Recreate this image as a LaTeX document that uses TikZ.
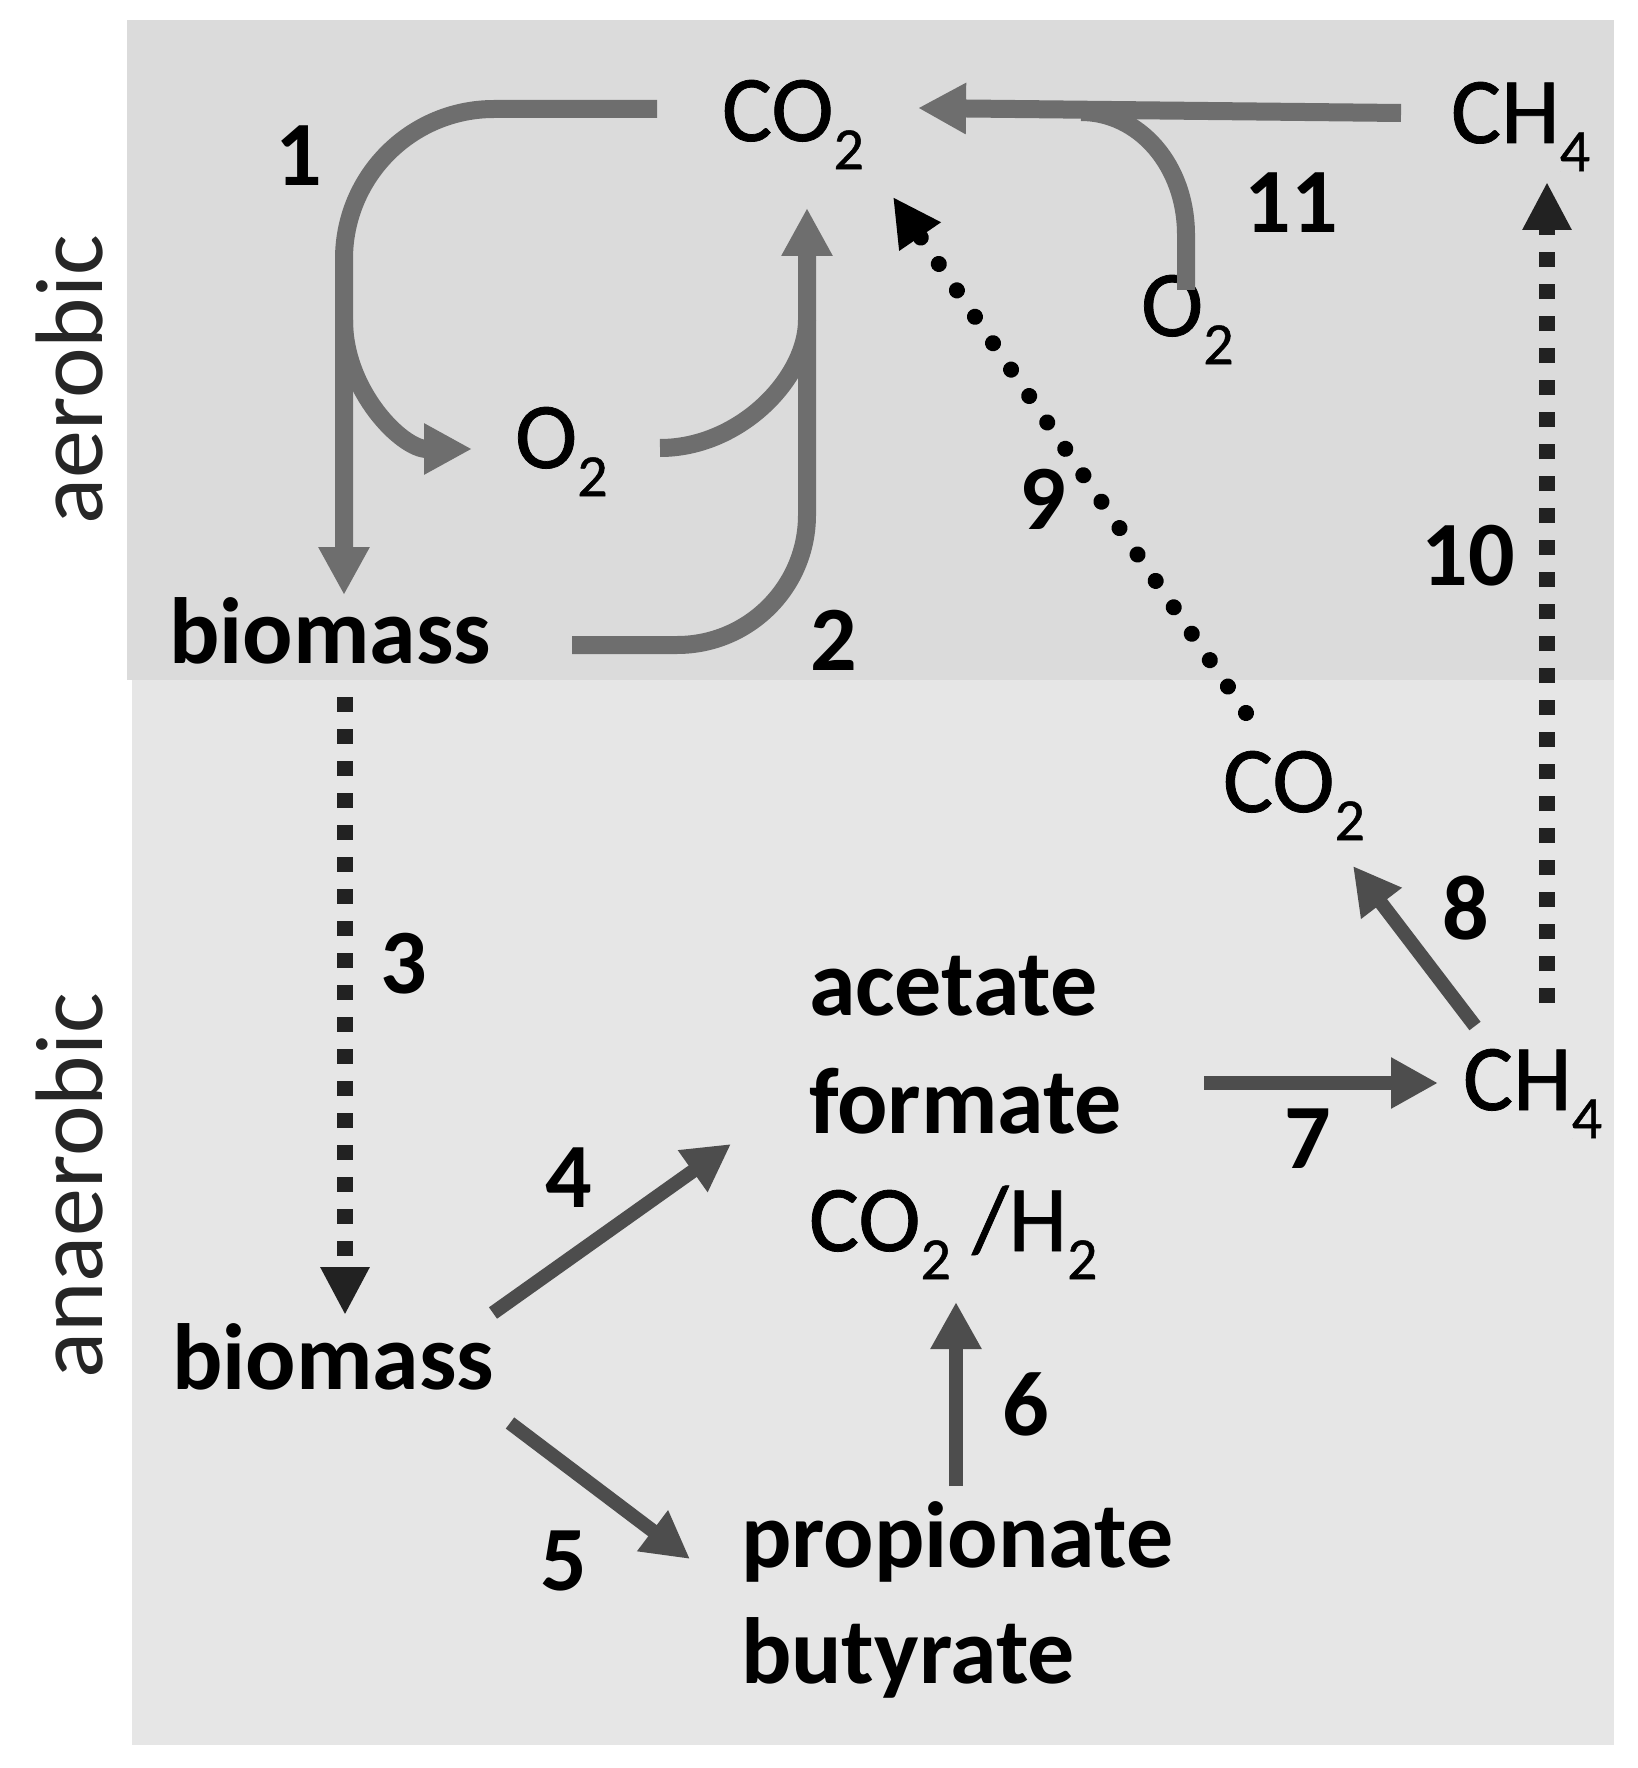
\documentclass[tikz,border=0pt]{standalone}
\usepackage{fontspec}
\setmainfont{Carlito}
\newfontfamily\medfont[FakeBold=0.8]{Carlito}
\usetikzlibrary{arrows.meta}
\definecolor{aerobg}{HTML}{DBDBDB}
\definecolor{anaerobg}{HTML}{E6E6E6}
\definecolor{lightarrow}{HTML}{6E6E6E}
\definecolor{darkarrow}{HTML}{4D4D4D}
\definecolor{dotcol}{HTML}{222222}
\newcommand\chemsub[1]{\raisebox{-0.3em}{\fontsize{60}{60}\selectfont #1}}
\begin{document}
\begin{tikzpicture}[x=1pt,y=-1pt,
  every node/.style={inner sep=0pt, outer sep=0pt},
  lbl/.style={anchor=base west, font=\medfont\fontsize{94}{118}\selectfont},
  blbl/.style={anchor=base west, font=\fontsize{94}{118}\selectfont\bfseries},
  num/.style={font=\fontsize{92}{100}\selectfont\bfseries},
  side/.style={rotate=90, font=\fontsize{96}{110}\selectfont, text=black!85},
  toparrow/.style={draw=lightarrow, line width=18pt, -{Triangle[length=48pt,width=48pt]}},
  topline/.style={draw=lightarrow, line width=18pt},
  botarrow/.style={draw=darkarrow, line width=14pt, -{Triangle[length=47pt,width=48pt]}},
  sqdots/.style={draw=dotcol, line width=16pt, dash pattern=on 15pt off 17pt, -{Triangle[length=48pt,width=46pt]}},
  rddots/.style={draw=black, line width=16pt, line cap=round, dash pattern=on 0.1pt off 31.9pt, -{Triangle[length=48pt,width=47pt]}},
]
\useasboundingbox (0,0) rectangle (1637,1768);
\fill[white] (0,0) rectangle (1637,1768);
% backgrounds
\fill[aerobg] (127,20) rectangle (1614,680);
\fill[anaerobg] (132,680) rectangle (1614,1745);

% side labels
\node[side] (aer) at (70,380) {aerobic};
\node[side] (anaer) at (70,1186) {anaerobic};

% species
\node[lbl] (co2top) at (722,141) {CO\chemsub{2}};
\node[lbl] (ch4top) at (1451,143) {CH\chemsub{4}};
\node[lbl] (o2left) at (515,468) {O\chemsub{2}};
\node[lbl] (o2right) at (1141,336) {O\chemsub{2}};
\node[blbl] (biotop) at (169,663) {biomass};
\node[lbl] (co2low) at (1223,812) {CO\chemsub{2}};
\node[blbl] (acet) at (809,1015) {acetate};
\node[blbl] (form) at (809,1133) {formate};
\node[lbl] (coh) at (809,1251) {CO\chemsub{2} /H\chemsub{2}};
\node[lbl] (ch4low) at (1463,1110) {CH\chemsub{4}};
\node[blbl] (biolow) at (172,1389) {biomass};
\node[blbl] (prop) at (741,1567) {propionate};
\node[blbl] (buty) at (741,1683) {butyrate};

% numbers
\node[num] (n1) at (299,156) {1};
\node[num] (n2) at (834,640) {2};
\node[num] (n3) at (404,964) {3};
\node[num] (n4) at (569,1178) {4};
\node[num] (n5) at (564,1561) {5};
\node[num] (n6) at (1026,1404) {6};
\node[num] (n7) at (1308,1139) {7};
\node[num] (n8) at (1466,908) {8};
\node[num] (n9) at (1043,499) {9};
\node[num] (n10) at (1468,556) {10};
\node[num] (n11) at (1291,203) {11};

% connector end points
\coordinate (a1s) at (657,109);
\coordinate (a1c) at (344,109);
\coordinate (a1e) at (344,595);
\coordinate (a1b) at (344,320);
\coordinate (a1o) at (472,449);
\coordinate (a2s) at (572,645);
\coordinate (a2c) at (807,645);
\coordinate (a2e) at (807,208);
\coordinate (a2o) at (660,448);
\coordinate (a2j) at (807,320);
\coordinate (a11s) at (1401,113);
\coordinate (a11e) at (918,108);
\coordinate (a11o) at (1186,290);
\coordinate (a11k) at (1186,235);
\coordinate (a11j) at (1081,112);
\coordinate (a3s) at (345,697);
\coordinate (a3e) at (345,1315);
\coordinate (a9s) at (1246,713);
\coordinate (a9e) at (893,197);
\coordinate (a10s) at (1547,1003);
\coordinate (a10e) at (1547,182);
\coordinate (a4s) at (493,1313);
\coordinate (a4e) at (731,1144);
\coordinate (a5s) at (510,1423);
\coordinate (a5e) at (690,1559);
\coordinate (a6s) at (956,1486);
\coordinate (a6e) at (956,1302);
\coordinate (a7s) at (1204,1083);
\coordinate (a7e) at (1438,1083);
\coordinate (a8s) at (1475,1026);
\coordinate (a8e) at (1353,866);

% aerobic arrows
\draw[toparrow, rounded corners=150pt] (a1s) -- (a1c) -- (a1e);
\draw[toparrow] (a1b) .. controls (344,391) and (402,449) .. (a1o);
\draw[toparrow, rounded corners=130pt] (a2s) -- (a2c) -- (a2e);
\draw[topline] (a2o) .. controls (740,448) and (807,378) .. (a2j);
\draw[toparrow] (a11s) -- (a11e);
\draw[topline] (a11o) -- (a11k) .. controls (1186,165) and (1139,112) .. (a11j);

% dotted arrows
\draw[sqdots] (a3s) -- (a3e);
\draw[sqdots] (a10s) -- (a10e);
\draw[rddots] (a9s) -- (a9e);

% anaerobic arrows
\draw[botarrow] (a4s) -- (a4e);
\draw[botarrow] (a5s) -- (a5e);
\draw[botarrow] (a6s) -- (a6e);
\draw[botarrow] (a7s) -- (a7e);
\draw[botarrow] (a8s) -- (a8e);
\end{tikzpicture}
\end{document}
